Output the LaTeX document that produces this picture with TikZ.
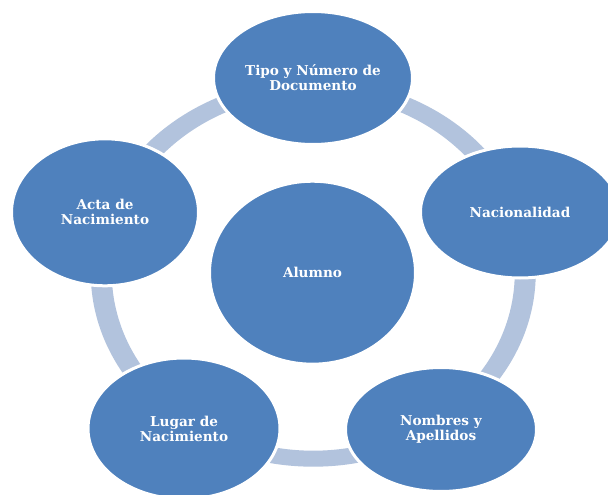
\documentclass[tikz,border=0pt]{standalone}
\usepackage{fontspec}
\setmainfont{DejaVu Serif}
\usetikzlibrary{shapes.geometric}
\definecolor{nodeblue}{RGB}{79,129,189}
\definecolor{ringblue}{RGB}{178,195,221}
\tikzset{
  bubble/.style={ellipse, fill=nodeblue, draw=white, line width=3pt, inner sep=0pt,
    text=white, align=center, font=\bfseries\fontsize{13.6}{15}\selectfont},
}
\begin{document}
\begin{tikzpicture}[x=1pt,y=-1pt]
\clip (0,0) rectangle (608,495);
\fill[white] (0,0) rectangle (608,495);
% ring
\fill[ringblue, even odd rule] (313.25,272.7) ellipse [x radius=222.5, y radius=194]
  (313.25,272.7) ellipse [x radius=201.5, y radius=178];
% nodes
\node[bubble, minimum width=206pt, minimum height=183pt] (alumno) at (312.5,272.7) {Alumno};
\node[bubble, minimum width=199pt, minimum height=133pt] (tipo) at (313,78) {Tipo y Número de\\Documento};
\node[bubble, minimum width=199pt, minimum height=132pt] (nac) at (520,212) {Nacionalidad};
\node[bubble, minimum width=191pt, minimum height=124pt] (nom) at (441,429.5) {Nombres y\\Apellidos};
\node[bubble, minimum width=192pt, minimum height=141pt] (lugar) at (184,428.5) {Lugar de\\Nacimiento};
\node[bubble, minimum width=187pt, minimum height=147pt] (acta) at (105,212.3) {Acta de\\Nacimiento};
\end{tikzpicture}
\end{document}
